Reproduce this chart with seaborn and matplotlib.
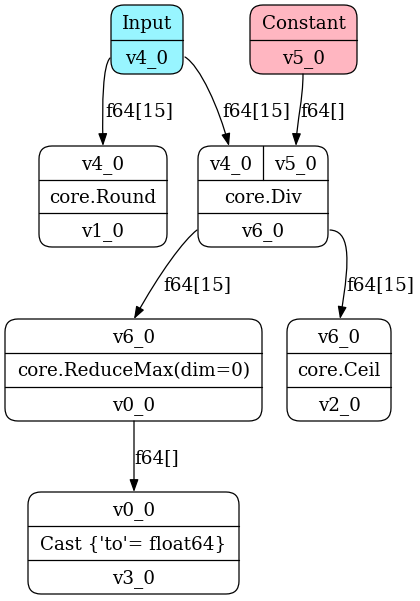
import matplotlib
matplotlib.use("Agg")
import matplotlib.pyplot as plt
import seaborn as sns
from matplotlib.patches import FancyBboxPatch, FancyArrowPatch
from matplotlib.path import Path

# node contents (rows top -> bottom); a tuple row is split into cells
node_names = ["input", "const", "round", "div", "rmax", "ceil", "cast"]
node_rows = {
    "input": ["Input", "v4_0"],
    "const": ["Constant", "v5_0"],
    "round": ["v4_0", "core.Round", "v1_0"],
    "div": [("v4_0", "v5_0"), "core.Div", "v6_0"],
    "rmax": ["v6_0", "core.ReduceMax(dim=0)", "v0_0"],
    "ceil": ["v6_0", "core.Ceil", "v2_0"],
    "cast": ["v0_0", "Cast {'to'= float64}", "v3_0"],
}
edge_src = ["input", "input", "const", "div", "div", "rmax"]
edge_dst = ["round", "div", "div", "rmax", "ceil", "cast"]
edge_labels = ["f64[15]", "f64[15]", "f64[]", "f64[15]", "f64[15]", "f64[]"]

# layout in pixels (x0, y0, x1, y1), y downwards
box = {
    "input": (111, 5, 183, 74),
    "const": (250, 5, 357, 74),
    "round": (39, 146, 167, 247),
    "div": (198, 146, 328, 247),
    "rmax": (5, 319, 262, 421),
    "ceil": (287, 319, 391, 421),
    "cast": (28, 492, 239, 594),
}
fills = {"input": "#98f5ff", "const": "#ffb6c1"}
div_split_x = 263

edge_paths = [
    [(110, 58), (103, 66), (102, 100), (103, 146)],
    [(185, 57), (200, 66), (219, 108), (229, 146)],
    [(303, 74), (303, 100), (297, 120), (296, 146)],
    [(197, 230), (184, 240), (160, 272), (134, 319)],
    [(330, 230), (348, 231), (352, 252), (340, 319)],
    [(134, 421), (134, 440), (134, 470), (134, 492)],
]
label_pos = [(105, 110), (222, 110), (300, 110), (163, 284), (346, 284), (134, 457)]

sns.set_theme(style="white")
plt.rcParams["font.family"] = ["DejaVu Serif"]
plt.rcParams["text.color"] = "black"
FS = 13.2
DY = 1.5  # nudge text down so caps sit centred like graphviz

fig = plt.figure(figsize=(4.2, 6.01), dpi=100)
ax = fig.add_axes([0, 0, 1, 1])
ax.set_xlim(0, 420)
ax.set_ylim(601, 0)
ax.axis("off")

for name in node_names:
    x0, y0, x1, y1 = box[name]
    ax.add_patch(FancyBboxPatch((x0, y0), x1 - x0, y1 - y0,
                                boxstyle="round,pad=0,rounding_size=13",
                                fc=fills.get(name, "white"), ec="black", lw=0.9))
    rows = node_rows[name]
    rh = (y1 - y0) / len(rows)
    for i, row in enumerate(rows):
        cy = y0 + rh * (i + 0.5) + DY
        if i > 0:
            ax.plot([x0, x1], [y0 + rh * i] * 2, color="black", lw=0.9)
        if isinstance(row, tuple):
            ax.plot([div_split_x] * 2, [y0, y0 + rh], color="black", lw=0.9)
            ax.text((x0 + div_split_x) / 2, cy, row[0], ha="center", va="center", fontsize=FS, color="black")
            ax.text((div_split_x + x1) / 2, cy, row[1], ha="center", va="center", fontsize=FS, color="black")
        else:
            ax.text((x0 + x1) / 2, cy, row, ha="center", va="center", fontsize=FS, color="black")

codes = [Path.MOVETO, Path.CURVE4, Path.CURVE4, Path.CURVE4]
for pts, lab, (lx, ly) in zip(edge_paths, edge_labels, label_pos):
    arr = FancyArrowPatch(path=Path(pts, codes),
                          arrowstyle="-|>,head_length=7.5,head_width=2.7",
                          mutation_scale=1, color="black", lw=0.9)
    ax.add_patch(arr)
    ax.text(lx, ly + DY, lab, ha="left", va="center", fontsize=FS, color="black")

fig.savefig("out.png", dpi=100, facecolor="white")
